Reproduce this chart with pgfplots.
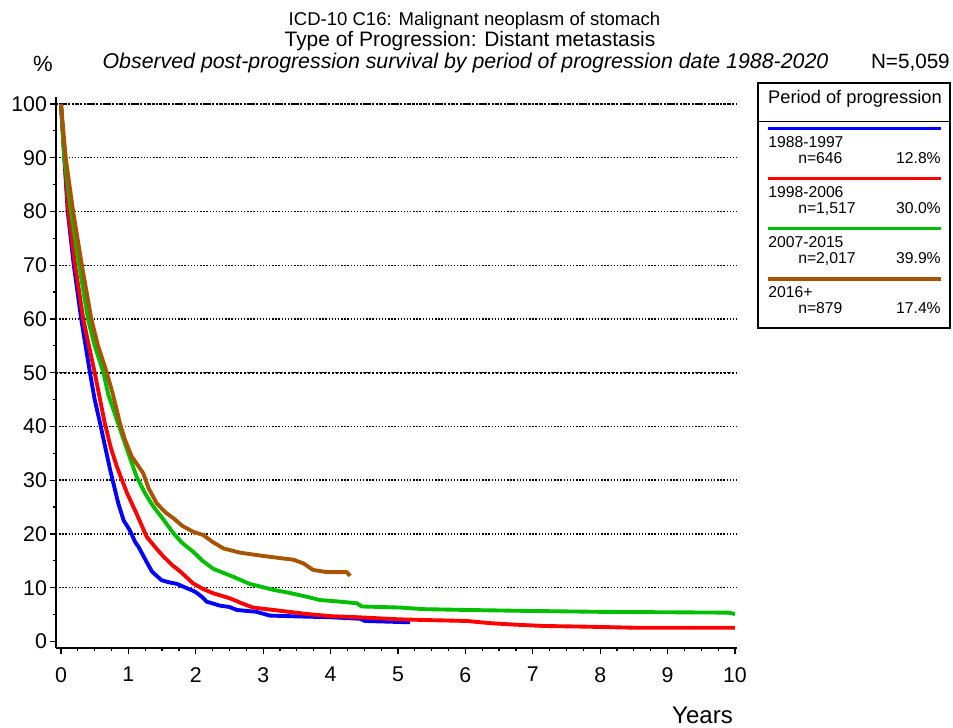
\documentclass[border=0pt]{standalone}
\usepackage{pgfplots}
\pgfplotsset{compat=1.18}
\usepackage{fontspec}
\setmainfont{Liberation Sans}
\definecolor{cblue}{RGB}{0,0,255}
\definecolor{cred}{RGB}{255,0,0}
\definecolor{cgreen}{RGB}{0,190,0}
\definecolor{cbrown}{RGB}{166,84,0}
\begin{document}
\begin{tikzpicture}
\begin{axis}[
  at={(42pt,-486pt)}, anchor=south west,
  scale only axis, width=510.75pt, height=413.25pt,
  xmin=-0.074, xmax=10.03, ymin=-1.23, ymax=101.3,
  axis lines*=left,
  axis line style={black, line width=1pt},
  xtick={0,...,10}, minor x tick num=3,
  ytick={10,20,...,100}, extra y ticks={0},
  extra y tick style={grid=none},
  minor ytick={5,15,...,95},
  tick align=outside,
  major tick length=4.8pt, minor tick length=2.6pt,
  tick style={black, line width=0.9pt},
  ymajorgrids,
  grid style={black, line width=1.05pt, dash pattern=on 1.05pt off 1.3pt},
  /pgf/number format/assume math mode=true,
  ticklabel style={font=\fontsize{16}{18}\selectfont},
  xticklabel style={yshift=-6pt},
  yticklabel style={xshift=1.5pt},
  clip=false,
]
\draw[black, line width=1.5pt, dash pattern=on 1.5pt off 1.5pt] (axis cs:-0.074,50) -- (axis cs:10.03,50);
\draw[black, line width=1.5pt, dash pattern=on 1.5pt off 1.5pt] (axis cs:-0.074,100) -- (axis cs:10.03,100);
% 1988-1997
\addplot[cblue, line width=2.9pt, line join=round] coordinates {
(0,100) (0.05,90) (0.10,80) (0.19,70) (0.30,60) (0.43,50) (0.50,45) (0.58,40.6)
(0.65,36.5) (0.73,31.9) (0.85,25.7) (0.93,22.5) (1.02,20.7) (1.10,18.5) (1.15,17.6)
(1.27,14.8) (1.35,13.0) (1.49,11.4) (1.60,11.0) (1.72,10.7) (1.85,10.0) (1.99,9.25)
(2.10,8.2) (2.16,7.4) (2.36,6.65) (2.50,6.4) (2.61,5.85) (2.90,5.5) (3.10,4.8)
(3.65,4.6) (4.00,4.5) (4.44,4.2) (4.51,3.8) (5.18,3.55)};
% 1998-2006
\addplot[cred, line width=2.9pt, line join=round] coordinates {
(0,100) (0.05,90) (0.11,80) (0.21,70) (0.33,60) (0.50,50) (0.58,45) (0.65,40.6)
(0.74,36) (0.83,32.5) (0.98,27.6) (1.12,23.8) (1.27,19.5) (1.40,17.5) (1.52,15.8)
(1.65,14.2) (1.77,13.0) (1.96,10.8) (2.10,9.8) (2.26,8.95) (2.51,8.0) (2.70,7.0)
(2.85,6.3) (3.15,5.85) (3.65,5.1) (4.00,4.7) (4.39,4.5) (5.03,4.1) (5.50,3.95)
(6.02,3.8) (6.36,3.4) (6.76,3.1) (7.16,2.87) (7.75,2.75) (8.49,2.55) (10.0,2.55)};
% 2007-2015
\addplot[cgreen, line width=2.9pt, line join=round] coordinates {
(0,100) (0.05,90) (0.15,80) (0.27,70) (0.40,60) (0.50,55) (0.63,50) (0.70,46)
(0.83,41.2) (1.00,35.0) (1.12,30.7) (1.25,27.5) (1.37,25.1) (1.50,23.0) (1.67,20.1)
(1.80,18.3) (1.96,16.7) (2.10,15.0) (2.26,13.5) (2.56,12.0) (2.80,10.7) (3.15,9.6)
(3.40,9.0) (3.65,8.3) (3.84,7.7) (4.14,7.4) (4.39,7.1) (4.46,6.5) (5.03,6.3)
(5.38,6.0) (6.02,5.85) (6.76,5.7) (8.00,5.5) (9.90,5.35) (10.0,5.1)};
% 2016+
\addplot[cbrown, line width=2.9pt, line join=round] coordinates {
(0,100) (0.07,90) (0.18,80) (0.31,70) (0.45,60) (0.55,55) (0.68,50) (0.77,46)
(0.875,40.6) (0.95,37.5) (1.05,34.4) (1.22,31.3) (1.30,28.5) (1.42,25.7) (1.55,24.0)
(1.67,22.9) (1.80,21.5) (1.96,20.4) (2.11,19.8) (2.25,18.5) (2.41,17.3) (2.66,16.5)
(3.0,15.9) (3.25,15.5) (3.45,15.2) (3.60,14.5) (3.74,13.3) (3.94,12.9) (4.24,12.9)
(4.29,12.2)};
\end{axis}
\begin{scope}[x=0.75pt, y=-0.75pt]
\path[use as bounding box] (0,0) rectangle (953,728);
\node[anchor=base, font=\fontsize{13.9}{16}\selectfont, inner sep=0pt] at (474.5,26) {ICD-10 C16: Malignant neoplasm of stomach};
\node[anchor=base, font=\fontsize{15.7}{18}\selectfont, inner sep=0pt] at (470,46) {Type of Progression: Distant metastasis};
\node[anchor=base, font=\fontsize{16}{18}\selectfont\itshape, inner sep=0pt] at (465.5,68.5) {Observed post-progression survival by period of progression date 1988-2020};
\node[anchor=base east, font=\fontsize{15.5}{18}\selectfont, inner sep=0pt] at (950,68.5) {N=5,059};
\node[anchor=base, font=\fontsize{16.5}{18}\selectfont, inner sep=0pt] at (43,71) {\%};
\node[anchor=base east, font=\fontsize{18}{20}\selectfont, inner sep=0pt] at (733,723) {Years};
% legend
\draw[black, line width=0.9pt] (758,83) rectangle (950,328);
\draw[black, line width=0.9pt] (758,121.5) -- (950,121.5);
\node[anchor=base, font=\fontsize{13.7}{16}\selectfont, inner sep=0pt] at (855,103) {Period of progression};
\draw[cblue, line width=2.3pt] (768,128.7) -- (941,128.7);
\draw[cred, line width=2.3pt] (768,178.7) -- (941,178.7);
\draw[cgreen, line width=2.3pt] (768,228.3) -- (941,228.3);
\draw[cbrown, line width=2.3pt] (768,279) -- (941,279);
\begin{scope}[every node/.style={font=\fontsize{11.8}{14}\selectfont, inner sep=0pt}]
\node[anchor=base west] at (768,147.3) {1988-1997};
\node[anchor=base west] at (798,163.3) {n=646};
\node[anchor=base east] at (941,163.3) {12.8\%};
\node[anchor=base west] at (768,197.3) {1998-2006};
\node[anchor=base west] at (798,213.3) {n=1,517};
\node[anchor=base east] at (941,213.3) {30.0\%};
\node[anchor=base west] at (768,247) {2007-2015};
\node[anchor=base west] at (798,263) {n=2,017};
\node[anchor=base east] at (941,263) {39.9\%};
\node[anchor=base west] at (768,297.6) {2016+};
\node[anchor=base west] at (798,313.6) {n=879};
\node[anchor=base east] at (941,313.6) {17.4\%};
\end{scope}
\end{scope}
\end{tikzpicture}
\end{document}
